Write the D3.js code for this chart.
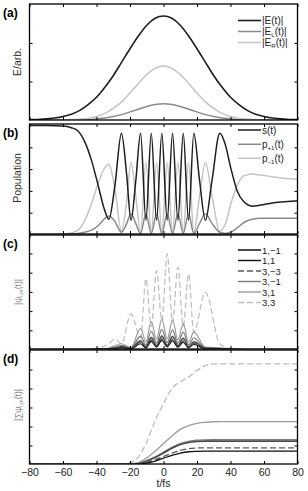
<!DOCTYPE html>
<html><head><meta charset="utf-8">
<script src="https://cdn.jsdelivr.net/npm/d3@7"></script>
<style>
body{margin:0;background:#fff}
text{font-family:"Liberation Sans",Arial,sans-serif}
</style>
</head><body>
<svg id="fig" width="308" height="491"></svg>
<script>
// time axis ticks (fs)
const xTicks = [-80,-60,-40,-20,0,20,40,60,80]

// (a) field envelopes, sampled every 5 fs
const tA = d3.range(-80, 81, 5)
const eTot = [0.01,0.01,0.03,0.05,0.09,0.15,0.25,0.40,0.59,0.85,1.15,1.50,1.85,2.18,2.46,2.64,2.70,2.64,2.46,2.18,1.85,1.50,1.15,0.85,0.59,0.40,0.25,0.15,0.09,0.05,0.03,0.01,0.01]
const eL = [0,0,0,0,0,0,0.01,0.01,0.03,0.05,0.09,0.14,0.21,0.28,0.35,0.40,0.42,0.40,0.35,0.28,0.21,0.14,0.09,0.05,0.03,0.01,0.01,0,0,0,0,0,0]
const eR = [0,0,0,0,0,0.01,0.02,0.04,0.09,0.17,0.30,0.47,0.70,0.95,1.18,1.34,1.40,1.34,1.18,0.95,0.70,0.47,0.30,0.17,0.09,0.04,0.02,0.01,0,0,0,0,0]

// (b) populations
const tB = [-80,-70,-60,-55,-51,-47,-43,-39,-35.5,-32.6,-29,-25.1,-22,-19.4,-16.5,-13.7,-10.5,-7.3,-4.15,-1.0,2.2,5.4,8.6,11.8,14.95,18.1,21.5,25,29,33.6,37,40,44,48,53,58,65,72,80]
const popS = [1,1,0.995,0.98,0.95,0.85,0.68,0.45,0.24,0.14,0.45,0.93,0.55,0.13,0.5,0.93,0.13,0.93,0.13,0.93,0.13,0.93,0.13,0.93,0.13,0.93,0.5,0.13,0.5,0.93,0.82,0.62,0.40,0.30,0.26,0.27,0.29,0.30,0.31]
const popP = [0,0,0,0.005,0.01,0.02,0.04,0.08,0.14,0.17,0.12,0.02,0.1,0.19,0.1,0.01,0.19,0.01,0.19,0.01,0.19,0.01,0.19,0.01,0.19,0.01,0.1,0.19,0.1,0.02,0.01,0.02,0.06,0.11,0.14,0.148,0.148,0.148,0.148]
const popM = [0,0,0.005,0.015,0.04,0.13,0.28,0.47,0.60,0.645,0.42,0.03,0.30,0.66,0.35,0.02,0.66,0.02,0.66,0.02,0.66,0.02,0.66,0.02,0.66,0.02,0.35,0.66,0.35,0.03,0.1,0.27,0.45,0.54,0.555,0.545,0.53,0.515,0.506]

// (c) partial-wave amplitudes
const tC = [-80,-45,-38,-32.6,-29,-25.1,-19.4,-13.7,-10.5,-7.3,-4.15,-1.0,2.2,5.4,8.6,11.8,14.95,18.1,25,33.6,40,50,80]
const waveLabels = ["1,\u22121","1,1","3,\u22123","3,\u22121","3,1","3,3"]
const psi1m1 = [0,0,0.01,0.03,0.08,0.15,0.05,0.45,0.14,0.62,0.2,0.7,0.22,0.68,0.2,0.58,0.14,0.4,0.06,0.04,0.01,0,0]
const psi11  = [0,0,0.01,0.02,0.05,0.1,0.03,0.3,0.09,0.42,0.13,0.48,0.14,0.46,0.12,0.38,0.09,0.26,0.04,0.03,0.01,0,0]
const psi3m3 = [0,0,0.01,0.03,0.07,0.12,0.04,0.38,0.12,0.5,0.16,0.57,0.17,0.55,0.15,0.47,0.12,0.32,0.05,0.03,0.01,0,0]
const psi3m1 = [0,0,0.02,0.05,0.12,0.2,0.07,0.7,0.25,0.95,0.33,1.05,0.36,1.02,0.32,0.9,0.24,0.6,0.09,0.06,0.02,0,0]
const psi31  = [0,0,0.03,0.08,0.2,0.3,0.1,1.1,0.4,1.45,0.52,1.6,0.55,1.55,0.5,1.35,0.38,0.9,0.12,0.08,0.03,0,0]
const psi33  = [0,0.02,0.1,0.3,0.55,0.3,1.86,0.6,3.68,1.2,4.11,1.5,4.98,1.4,4.29,1.2,3.94,0.9,2.98,0.3,0.05,0,0]

// (d) accumulated amplitudes, every 5 fs
const tD = d3.range(-80, 81, 5)
const sum1m1 = [0,0,0,0,0,0,0,0,0,0,0,0,0,0.04,0.17,0.37,0.6,0.85,1.05,1.16,1.21,1.23,1.23,1.23,1.23,1.23,1.23,1.23,1.23,1.23,1.23,1.23,1.23]
const sum11  = [0,0,0,0,0,0,0,0,0,0,0,0,0,0.02,0.07,0.18,0.33,0.48,0.6,0.67,0.69,0.70,0.70,0.70,0.70,0.70,0.70,0.70,0.70,0.70,0.70,0.70,0.70]
const sum3m3 = [0,0,0,0,0,0,0,0,0,0,0,0,0,0.03,0.1,0.25,0.42,0.6,0.74,0.83,0.87,0.88,0.88,0.88,0.88,0.88,0.88,0.88,0.88,0.88,0.88,0.88,0.88]
const sum3m1 = [0,0,0,0,0,0,0,0,0,0,0,0,0,0.05,0.2,0.4,0.65,0.9,1.1,1.22,1.28,1.30,1.31,1.31,1.31,1.31,1.31,1.31,1.31,1.31,1.31,1.31,1.31]
const sum31  = [0,0,0,0,0,0,0,0,0,0,0,0,0.02,0.1,0.35,0.7,1.1,1.5,1.85,2.05,2.17,2.22,2.25,2.26,2.26,2.26,2.26,2.26,2.26,2.26,2.26,2.26,2.26]
const sum33  = [0,0,0,0,0,0,0,0,0,0,0,0.02,0.1,0.4,1.2,2.3,3.2,4.0,4.35,4.6,4.95,5.2,5.3,5.3,5.3,5.3,5.3,5.3,5.3,5.3,5.3,5.3,5.3]

const svg = d3.select("#fig")
const x = d3.scaleLinear().domain([-80,80]).range([29.5,297.5])
const left = 29.5, right = 297.5

const waveStyles = [
  {c:"#4a4a4a", w:2, dash:null},
  {c:"#111", w:1.4, dash:null},
  {c:"#5a5a5a", w:1.4, dash:"6,3"},
  {c:"#7a7a7a", w:1.4, dash:null},
  {c:"#9c9c9c", w:1.4, dash:null},
  {c:"#bdbdbd", w:1.4, dash:"6,3"}
]

function panel(id, top, bottom, y, yTicks, label)
{
  const g = svg.append("g").attr("id", "panel-"+id)
  svg.append("clipPath").attr("id","clip-"+id)
    .append("rect").attr("x",left).attr("y",top).attr("width",right-left).attr("height",bottom-top)

  const inner = g.append("g").attr("clip-path","url(#clip-"+id+")")

  // inward ticks on all four sides
  g.append("g").attr("transform","translate(0,"+bottom+")")
    .call(d3.axisBottom(x).tickValues(xTicks).tickSize(-3).tickFormat(""))
  g.append("g").attr("transform","translate(0,"+top+")")
    .call(d3.axisTop(x).tickValues(xTicks).tickSize(-3).tickFormat(""))
  g.append("g").attr("transform","translate("+left+",0)")
    .call(d3.axisLeft(y).tickValues(yTicks).tickSize(-3).tickFormat(""))
  g.append("g").attr("transform","translate("+right+",0)")
    .call(d3.axisRight(y).tickValues(yTicks).tickSize(-3).tickFormat(""))
  g.selectAll(".domain").remove()
  g.selectAll(".tick line").attr("stroke","#000").attr("stroke-width",1)

  g.append("rect").attr("x",left).attr("y",top).attr("width",right-left).attr("height",bottom-top)
    .attr("fill","none").attr("stroke","#000").attr("stroke-width",1.3)

  g.append("text").attr("x",3).attr("y",top+13).attr("font-size",12).attr("font-weight","bold")
    .text("("+label+")")
  return inner
}

function drawLine(g, t, v, y, color, width, dash)
{
  const line = d3.line().x((d,i)=>x(t[i])).y(d=>y(d)).curve(d3.curveMonotoneX)
  g.append("path").attr("d", line(v)).attr("fill","none")
    .attr("stroke",color).attr("stroke-width",width)
    .attr("stroke-dasharray",dash)
}

function legendRow(x0, yRow, color, width, dash, textFn, size)
{
  svg.append("line").attr("x1",x0).attr("x2",x0+23).attr("y1",yRow).attr("y2",yRow)
    .attr("stroke",color).attr("stroke-width",width).attr("stroke-dasharray",dash)
  const t = svg.append("text").attr("x",x0+24).attr("y",yRow+3.5).attr("font-size",size).attr("fill","#222")
  textFn(t)
}

// ---- (a)
const yA = d3.scaleLinear().domain([0,3.01]).range([120,4])
const gA = panel("a", 4, 120, yA, [1,2], "a")
drawLine(gA, tA, eL, yA, "#8a8a8a", 1.5)
drawLine(gA, tA, eR, yA, "#c4c4c4", 1.5)
drawLine(gA, tA, eTot, yA, "#1e1e1e", 1.6)
legendRow(238, 20.5, "#1e1e1e", 1.6, null, t=>t.text("|E(t)|"), 10)
legendRow(238, 31.5, "#8a8a8a", 1.5, null, t=>{t.append("tspan").text("|E");t.append("tspan").attr("font-size",6).attr("dy",2).text("L");t.append("tspan").attr("dy",-2).text("(t)|")}, 10)
legendRow(238, 42.5, "#c4c4c4", 1.5, null, t=>{t.append("tspan").text("|E");t.append("tspan").attr("font-size",6).attr("dy",2).text("R");t.append("tspan").attr("dy",-2).text("(t)|")}, 10)

// ---- (b)
const yB = d3.scaleLinear().domain([0,1]).range([234.5,125.5])
const gB = panel("b", 124, 234, yB, [0.2,0.4,0.6,0.8], "b")
drawLine(gB, tB, popM, yB, "#c4c4c4", 1.5)
drawLine(gB, tB, popP, yB, "#8a8a8a", 1.5)
drawLine(gB, tB, popS, yB, "#1e1e1e", 1.5)
legendRow(238, 130, "#1e1e1e", 1.5, null, t=>t.text("s(t)"), 10)
legendRow(238, 144.3, "#8a8a8a", 1.5, null, t=>{t.append("tspan").text("p");t.append("tspan").attr("font-size",6).attr("dy",2).text("+1");t.append("tspan").attr("dy",-2).text("(t)")}, 10)
legendRow(238, 158.3, "#c4c4c4", 1.5, null, t=>{t.append("tspan").text("p");t.append("tspan").attr("font-size",6).attr("dy",2).text("\u22121");t.append("tspan").attr("dy",-2).text("(t)")}, 10)

// ---- (c)
const yC = d3.scaleLinear().domain([0,6]).range([349.5,234.3])
const gC = panel("c", 235, 349, yC, [1,2,3,4,5], "c")
const psiSeries = [psi1m1, psi11, psi3m3, psi3m1, psi31, psi33]
for (let k=psiSeries.length-1; k>=0; k--){
  const s = waveStyles[k]
  drawLine(gC, tC, psiSeries[k], yC, s.c, s.w==2?1.5:1.2, s.dash)
}
waveLabels.forEach((lab,k)=>{
  const s = waveStyles[k]
  legendRow(238, 250+k*10.5, s.c, s.w, s.dash, t=>t.text(lab), 9.5)
})

// ---- (d)
const yD = d3.scaleLinear().domain([0,6]).range([464.5,350.5])
const gD = panel("d", 350, 464, yD, [1,2,3,4,5], "d")
const sumSeries = [sum1m1, sum11, sum3m3, sum3m1, sum31, sum33]
for (let k=sumSeries.length-1; k>=0; k--){
  const s = waveStyles[k]
  drawLine(gD, tD, sumSeries[k], yD, s.c, s.w==2?1.6:1.3, s.dash)
}

// x tick labels on the bottom panel
svg.append("g").attr("transform","translate(0,464)")
  .call(d3.axisBottom(x).tickValues(xTicks).tickSize(0).tickPadding(5).tickFormat(d=>d<0?"\u2212"+(-d):d))
  .call(g=>g.select(".domain").remove())
  .selectAll("text").attr("font-size",10.5).attr("fill","#222")
  .style("font-family","Liberation Sans, Arial, sans-serif")
svg.append("text").attr("x",x(0)).attr("y",487).attr("text-anchor","middle").attr("font-size",10.5).attr("fill","#222").text("t/fs")

// y labels
function yLabel(cy, size, color, build)
{
  const t = svg.append("text").attr("transform","translate(21,"+cy+") rotate(-90)")
    .attr("text-anchor","middle").attr("font-size",size).attr("fill",color)
  build(t)
}
yLabel(62, 10.5, "#333", t=>t.text("E/arb."))
yLabel(178, 10.5, "#333", t=>t.text("Population"))
yLabel(292, 8.5, "#888", t=>{t.append("tspan").text("|\u03c8");t.append("tspan").attr("font-size",5.5).attr("dy",2).text("l,m");t.append("tspan").attr("dy",-2).text("(t)|")})
yLabel(405, 8.5, "#777", t=>{t.append("tspan").text("|\u2211\u03c8");t.append("tspan").attr("font-size",5.5).attr("dy",2).text("l,m");t.append("tspan").attr("dy",-2).text("(t)|")})
</script>
</body></html>
